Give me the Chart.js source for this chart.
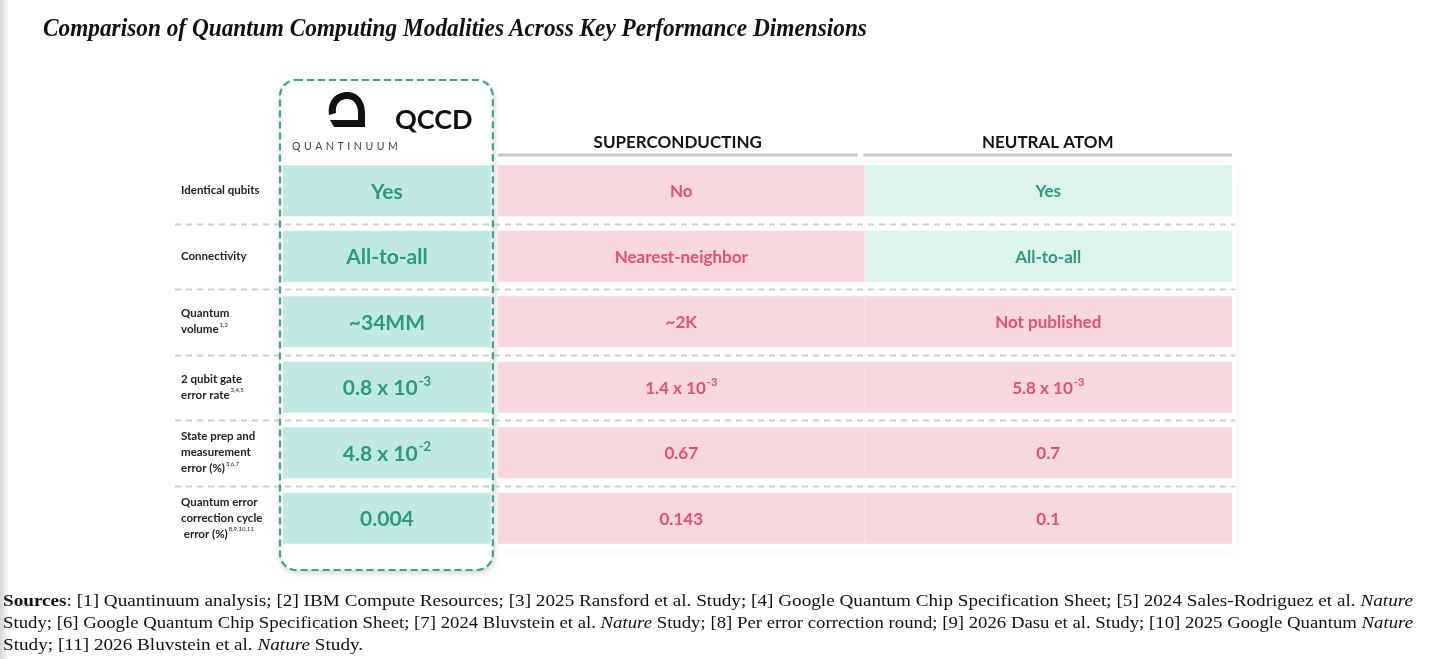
<!DOCTYPE html>
<html lang="en">
<head>
<meta charset="UTF-8">
<title>Comparison of Quantum Computing Modalities</title>
<script src="https://cdn.jsdelivr.net/npm/chart.js"></script>
<style>
    html, body { margin: 0; padding: 0; background: #fff; }
    body { width: 1439px; height: 659px; position: relative; overflow: hidden; }
    #edge { position: absolute; left: 0; top: 0; width: 9px; height: 659px; background: linear-gradient(to right, #d4d4d4, #fff); }
    #title { position: absolute; left: 43px; top: 13px; font: italic bold 25px "Liberation Serif", serif; line-height: 30px; white-space: nowrap; transform-origin: 0 0; color: #111; }
    .ctn { position: absolute; left: 0; top: 0; width: 1439px; height: 659px; }
    #sources { position: absolute; left: 3px; top: 590px; width: 1410px; font: 17px "Liberation Serif", serif; color: #111; }
    #sources .ln { white-space: nowrap; line-height: 22px; display: block; }
    #sources .ln span { display: inline-block; transform-origin: 0 0; }
</style>
</head>
<body>
    <div id="edge"></div>
    <div class="ctn"><canvas id="myChart"></canvas></div>
    <div id="title">Comparison of Quantum Computing Modalities Across Key Performance Dimensions</div>
    <div id="sources">
        <div class="ln"><span class="fit"><b>Sources</b>: [1] Quantinuum analysis; [2] IBM Compute Resources; [3] 2025 Ransford et al. Study; [4] Google Quantum Chip Specification Sheet; [5] 2024 Sales-Rodriguez et al. <i>Nature</i></span></div>
        <div class="ln"><span class="fit">Study; [6] Google Quantum Chip Specification Sheet; [7] 2024 Bluvstein et al. <i>Nature</i> Study; [8] Per error correction round; [9] 2026 Dasu et al. Study; [10] 2025 Google Quantum <i>Nature</i></span></div>
        <div class="ln"><span class="last">Study; [11] 2026 Bluvstein et al. <i>Nature</i> Study.</span></div>
    </div>

<script>
    // columns and rows of the comparison
    const modalities = ['QCCD', 'SUPERCONDUCTING', 'NEUTRAL ATOM'];
    const metrics = ['Identical qubits', 'Connectivity', 'Quantum volume', '2 qubit gate error rate',
        'State prep and measurement error (%)', 'Quantum error correction cycle error (%)'];
    const metricLines = [['Identical qubits'], ['Connectivity'], ['Quantum', 'volume'], ['2 qubit gate', 'error rate'],
        ['State prep and', 'measurement', 'error (%)'], ['Quantum error', 'correction cycle', ' error (%)']];
    const metricRefs = ['', '', '1,2', '3,4,5', '3,6,7', '8,9,10,11'];

    // cell values ("^" marks the exponent)
    const qccdValues = ['Yes', 'All-to-all', '~34MM', '0.8 x 10^-3', '4.8 x 10^-2', '0.004'];
    const superconductingValues = ['No', 'Nearest-neighbor', '~2K', '1.4 x 10^-3', '0.67', '0.143'];
    const neutralAtomValues = ['Yes', 'All-to-all', 'Not published', '5.8 x 10^-3', '0.7', '0.1'];

    // favourable (teal) or not (pink)
    const qccdGood = [true, true, true, true, true, true];
    const superconductingGood = [false, false, false, false, false, false];
    const neutralAtomGood = [true, true, false, false, false, false];

    const values = [qccdValues, superconductingValues, neutralAtomValues];
    const good = [qccdGood, superconductingGood, neutralAtomGood];

    // layout: horizontal extent of each column on a 0-100 scale
    const colSpan = [[0, 21.9], [22.66, 61.27], [61.27, 100]];
    const goodFill = ['#bfe9e2', '#ddf3ee', '#ddf3ee'];
    const badFill = '#f6d8de';
    const goodText = '#2a9a83';
    const badText = '#e4506e';
    const FONT = 'Lato, "Noto Sans", sans-serif';

    function roundRect(ctx, x, y, w, h, r) {
        ctx.beginPath();
        ctx.moveTo(x + r, y);
        ctx.arcTo(x + w, y, x + w, y + h, r);
        ctx.arcTo(x + w, y + h, x, y + h, r);
        ctx.arcTo(x, y + h, x, y, r);
        ctx.arcTo(x, y, x + w, y, r);
        ctx.closePath();
    }

    // draws "base^exp" centred on cx
    function drawValue(ctx, txt, cx, cy, size, color) {
        let parts = txt.split('^');
        ctx.fillStyle = color;
        ctx.textBaseline = 'middle';
        ctx.textAlign = 'left';
        ctx.font = 'bold ' + size + 'px ' + FONT;
        let w1 = ctx.measureText(parts[0]).width;
        let w2 = 0;
        let sup = Math.round(size * 0.62);
        if (parts[1]) {
            ctx.font = 'bold ' + sup + 'px ' + FONT;
            w2 = ctx.measureText(parts[1]).width + 1;
        }
        let x = cx - (w1 + w2) / 2;
        ctx.font = 'bold ' + size + 'px ' + FONT;
        ctx.fillText(parts[0], x, cy);
        if (parts[1]) {
            ctx.font = 'bold ' + sup + 'px ' + FONT;
            ctx.fillText(parts[1], x + w1 + 1, cy - size * 0.32);
        }
    }

    const tablePlugin = {
        id: 'tablePlugin',
        beforeDatasetsDraw(chart) {
            const ctx = chart.ctx;
            const a = chart.chartArea;
            const xs = chart.scales.x;
            const ys = chart.scales.y;
            const rowY = metrics.map((m, i) => ys.getPixelForValue(i));
            const q0 = xs.getPixelForValue(colSpan[0][0]);
            const q1 = xs.getPixelForValue(colSpan[0][1]);
            const mid = xs.getPixelForValue(colSpan[1][1]);
            const s0 = xs.getPixelForValue(colSpan[1][0]);

            ctx.save();
            // faint shadow behind the comparison columns
            ctx.shadowColor = 'rgba(0,0,0,0.05)';
            ctx.shadowBlur = 14;
            ctx.fillStyle = '#ffffff';
            roundRect(ctx, s0, a.top + 4, a.right - s0 + 4, a.bottom - a.top - 4, 8);
            ctx.fill();
            // QCCD box
            ctx.shadowColor = 'rgba(0,0,0,0.22)';
            ctx.shadowBlur = 6;
            ctx.shadowOffsetX = 1;
            ctx.shadowOffsetY = 2;
            roundRect(ctx, q0 - 3, a.top - 78, q1 - q0 + 5, a.bottom - a.top + 97, 16);
            ctx.fill();
            ctx.restore();

            // dashed row separators
            ctx.save();
            ctx.strokeStyle = '#cdcdcd';
            ctx.lineWidth = 2;
            ctx.setLineDash([6, 5]);
            for (let i = 0; i < rowY.length - 1; i++) {
                let y = Math.round((rowY[i] + rowY[i + 1]) / 2) + 0.5;
                ctx.beginPath();
                ctx.moveTo(a.left - 108, y);
                ctx.lineTo(a.right + 3, y);
                ctx.stroke();
            }
            ctx.restore();

            // column headers
            ctx.save();
            ctx.fillStyle = '#151515';
            ctx.font = 'bold 17px ' + FONT;
            ctx.textAlign = 'center';
            ctx.textBaseline = 'middle';
            ctx.fillText(modalities[1], (s0 + mid - 7) / 2, a.top - 15);
            ctx.fillText(modalities[2], (mid - 1 + a.right) / 2, a.top - 15);
            ctx.strokeStyle = '#cbcbcb';
            ctx.lineWidth = 3;
            ctx.beginPath();
            ctx.moveTo(s0, a.top - 3);
            ctx.lineTo(mid - 7, a.top - 3);
            ctx.moveTo(mid - 1, a.top - 3);
            ctx.lineTo(a.right, a.top - 3);
            ctx.stroke();

            // QCCD logo mark: thick loop open at the lower left
            let lx = q0 + 63, ly = a.top - 49;
            ctx.fillStyle = '#111';
            ctx.beginPath();
            ctx.moveTo(lx - 17, ly + 6);
            ctx.bezierCurveTo(lx - 19, ly - 8, lx - 10, ly - 17, lx + 1, ly - 17);
            ctx.bezierCurveTo(lx + 13, ly - 17, lx + 19, ly - 7, lx + 19, ly + 4);
            ctx.lineTo(lx + 19, ly + 18);
            ctx.lineTo(lx - 12, ly + 18);
            ctx.lineTo(lx - 16, ly + 11);
            ctx.lineTo(lx + 12, ly + 11);
            ctx.lineTo(lx + 12, ly + 4);
            ctx.bezierCurveTo(lx + 12, ly - 4, lx + 8, ly - 10, lx + 1, ly - 10);
            ctx.bezierCurveTo(lx - 6, ly - 10, lx - 11, ly - 5, lx - 10, ly + 4);
            ctx.closePath();
            ctx.fill();
            ctx.font = 'bold 27px ' + FONT;
            ctx.textAlign = 'left';
            ctx.fillText(modalities[0], q0 + 112, a.top - 38);
            ctx.fillStyle = '#444';
            ctx.font = '10.5px ' + FONT;
            if ('letterSpacing' in ctx) ctx.letterSpacing = '3.6px';
            ctx.fillText('QUANTINUUM', q0 + 9, a.top - 11);
            if ('letterSpacing' in ctx) ctx.letterSpacing = '0px';

            // row labels
            ctx.fillStyle = '#222';
            ctx.textAlign = 'left';
            for (let i = 0; i < metricLines.length; i++) {
                let lines = metricLines[i];
                let lh = 16;
                let y0 = rowY[i] - (lines.length - 1) * lh / 2;
                ctx.font = 'bold 11.5px ' + FONT;
                lines.forEach((t, k) => ctx.fillText(t, a.left - 102, y0 + k * lh));
                if (metricRefs[i]) {
                    let last = lines[lines.length - 1];
                    let w = ctx.measureText(last).width;
                    ctx.font = '6px ' + FONT;
                    ctx.fillText(metricRefs[i], a.left - 102 + w + 1, y0 + (lines.length - 1) * lh - 5);
                }
            }
            ctx.restore();
        },
        afterDatasetsDraw(chart) {
            const ctx = chart.ctx;
            const a = chart.chartArea;
            const xs = chart.scales.x;
            const q0 = xs.getPixelForValue(colSpan[0][0]);
            const q1 = xs.getPixelForValue(colSpan[0][1]);

            ctx.save();
            chart.data.datasets.forEach((ds, c) => {
                chart.getDatasetMeta(c).data.forEach((bar, i) => {
                    let cx = (bar.x + bar.base) / 2;
                    let size = c === 0 ? 21 : 17;
                    drawValue(ctx, values[c][i], cx, bar.y + 1, size, good[c][i] ? goodText : badText);
                });
            });
            // dashed QCCD outline
            ctx.strokeStyle = '#3aa48c';
            ctx.lineWidth = 2.2;
            ctx.setLineDash([7, 4]);
            roundRect(ctx, q0 - 3, a.top - 78, q1 - q0 + 5, a.bottom - a.top + 97, 16);
            ctx.stroke();
            ctx.restore();
        }
    };

    const ctx = document.getElementById('myChart').getContext('2d');
    const myChart = new Chart(ctx, {
        type: 'bar',
        data: {
            labels: metrics,
            datasets: modalities.map((m, c) => ({
                label: m,
                data: metrics.map(() => [colSpan[c][0], colSpan[c][1]]),
                backgroundColor: good[c].map(g => g ? goodFill[c] : badFill),
                grouped: false,
                barPercentage: 0.78,
                categoryPercentage: 1,
                borderWidth: 0,
                borderSkipped: false
            }))
        },
        options: {
            indexAxis: 'y',
            responsive: true,
            maintainAspectRatio: false,
            animation: false,
            layout: { padding: { left: 283, right: 207, top: 158, bottom: 108 } },
            scales: {
                x: { type: 'linear', min: 0, max: 100, display: false },
                y: { display: false }
            },
            plugins: {
                legend: { display: false },
                tooltip: { enabled: false }
            }
        },
        plugins: [tablePlugin]
    });

    // stretch title and source lines to the widths in the original
    (function FitText() {
        const t = document.getElementById('title');
        t.style.transform = 'scaleX(' + (824 / t.scrollWidth) + ')';
        let k = 1;
        document.querySelectorAll('#sources .fit').forEach((s, i) => {
            let w = s.getBoundingClientRect().width;
            let sx = 1410 / w;
            if (i === 0) k = sx;
            s.style.transform = 'scaleX(' + sx + ')';
        });
        document.querySelector('#sources .last').style.transform = 'scaleX(' + k + ')';
    })();
</script>
</body>
</html>
